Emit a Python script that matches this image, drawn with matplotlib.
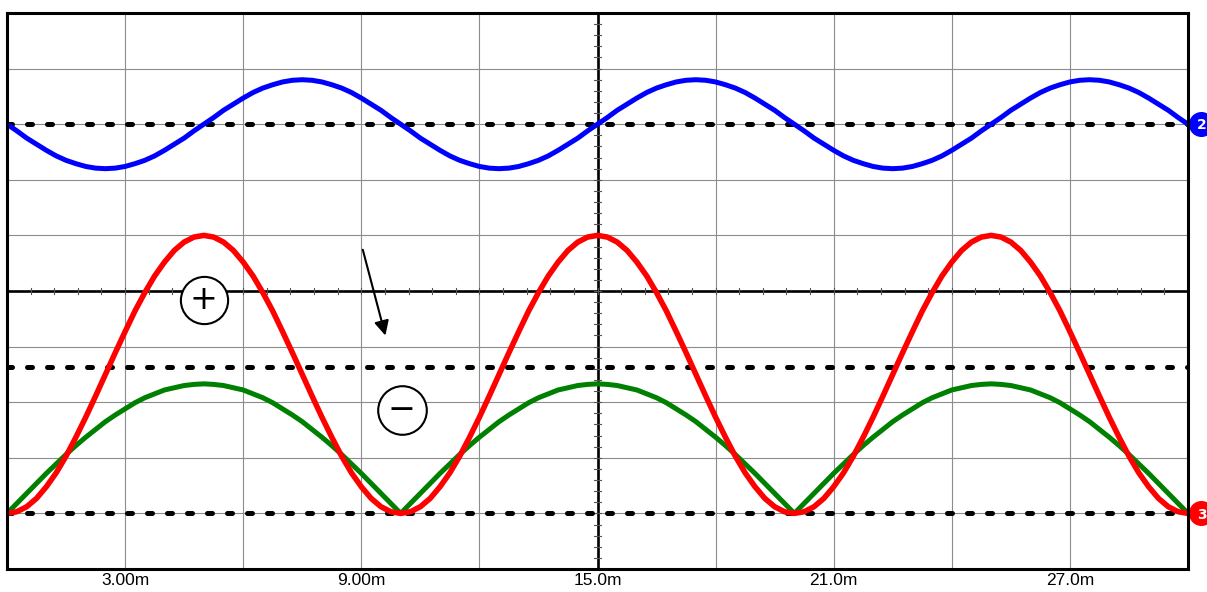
import numpy as np
import matplotlib.pyplot as plt

# tijd in ms, stapgrootte 0.25 ms (0 .. 30 ms)
t = np.arange(0, 30.001, 0.25)

# kanaal 2 (blauw), in schaaldelen
blauw = [3.00, 2.88, 2.75, 2.64, 2.53, 2.43, 2.35, 2.29, 2.24, 2.21,
         2.20, 2.21, 2.24, 2.29, 2.35, 2.43, 2.53, 2.64, 2.75, 2.88,
         3.00, 3.12, 3.25, 3.36, 3.47, 3.57, 3.65, 3.71, 3.76, 3.79,
         3.80, 3.79, 3.76, 3.71, 3.65, 3.57, 3.47, 3.36, 3.25, 3.12,
         3.00, 2.88, 2.75, 2.64, 2.53, 2.43, 2.35, 2.29, 2.24, 2.21,
         2.20, 2.21, 2.24, 2.29, 2.35, 2.43, 2.53, 2.64, 2.75, 2.88,
         3.00, 3.12, 3.25, 3.36, 3.47, 3.57, 3.65, 3.71, 3.76, 3.79,
         3.80, 3.79, 3.76, 3.71, 3.65, 3.57, 3.47, 3.36, 3.25, 3.12,
         3.00, 2.88, 2.75, 2.64, 2.53, 2.43, 2.35, 2.29, 2.24, 2.21,
         2.20, 2.21, 2.24, 2.29, 2.35, 2.43, 2.53, 2.64, 2.75, 2.88,
         3.00, 3.12, 3.25, 3.36, 3.47, 3.57, 3.65, 3.71, 3.76, 3.79,
         3.80, 3.79, 3.76, 3.71, 3.65, 3.57, 3.47, 3.36, 3.25, 3.12,
         3.00]

# kanaal 3 (rood)
rood = [-4.00, -3.97, -3.88, -3.73, -3.52, -3.27, -2.97, -2.63, -2.27, -1.89,
        -1.50, -1.11, -0.73, -0.36, -0.03, 0.27, 0.52, 0.73, 0.88, 0.97,
        1.00, 0.97, 0.88, 0.73, 0.52, 0.27, -0.03, -0.36, -0.73, -1.11,
        -1.50, -1.89, -2.27, -2.63, -2.97, -3.27, -3.52, -3.73, -3.88, -3.97,
        -4.00, -3.97, -3.88, -3.73, -3.52, -3.27, -2.97, -2.63, -2.27, -1.89,
        -1.50, -1.11, -0.73, -0.36, -0.03, 0.27, 0.52, 0.73, 0.88, 0.97,
        1.00, 0.97, 0.88, 0.73, 0.52, 0.27, -0.03, -0.36, -0.73, -1.11,
        -1.50, -1.89, -2.27, -2.63, -2.97, -3.27, -3.52, -3.73, -3.88, -3.97,
        -4.00, -3.97, -3.88, -3.73, -3.52, -3.27, -2.97, -2.63, -2.27, -1.89,
        -1.50, -1.11, -0.73, -0.36, -0.03, 0.27, 0.52, 0.73, 0.88, 0.97,
        1.00, 0.97, 0.88, 0.73, 0.52, 0.27, -0.03, -0.36, -0.73, -1.11,
        -1.50, -1.89, -2.27, -2.63, -2.97, -3.27, -3.52, -3.73, -3.88, -3.97,
        -4.00]

# groen
groen = [-4.00, -3.82, -3.64, -3.46, -3.28, -3.11, -2.94, -2.78, -2.63, -2.49,
         -2.35, -2.23, -2.12, -2.01, -1.92, -1.85, -1.78, -1.74, -1.70, -1.68,
         -1.67, -1.68, -1.70, -1.74, -1.78, -1.85, -1.92, -2.01, -2.12, -2.23,
         -2.35, -2.49, -2.63, -2.78, -2.94, -3.11, -3.28, -3.46, -3.64, -3.82,
         -4.00, -3.82, -3.64, -3.46, -3.28, -3.11, -2.94, -2.78, -2.63, -2.49,
         -2.35, -2.23, -2.12, -2.01, -1.92, -1.85, -1.78, -1.74, -1.70, -1.68,
         -1.67, -1.68, -1.70, -1.74, -1.78, -1.85, -1.92, -2.01, -2.12, -2.23,
         -2.35, -2.49, -2.63, -2.78, -2.94, -3.11, -3.28, -3.46, -3.64, -3.82,
         -4.00, -3.82, -3.64, -3.46, -3.28, -3.11, -2.94, -2.78, -2.63, -2.49,
         -2.35, -2.23, -2.12, -2.01, -1.92, -1.85, -1.78, -1.74, -1.70, -1.68,
         -1.67, -1.68, -1.70, -1.74, -1.78, -1.85, -1.92, -2.01, -2.12, -2.23,
         -2.35, -2.49, -2.63, -2.78, -2.94, -3.11, -3.28, -3.46, -3.64, -3.82,
         -4.00]

# referentieniveaus (stippellijnen)
ref_niveaus = [3.0, -1.37, -4.0]

tick_pos = [3, 9, 15, 21, 27]
tick_labels = ['3.00m', '9.00m', '15.0m', '21.0m', '27.0m']

fig = plt.figure(figsize=(12.07, 5.92), dpi=100)
ax = fig.add_axes([7/1207, 23/592, 1181/1207, 556/592])
ax.set_xlim(0, 30)
ax.set_ylim(-5, 5)

# raster
for gx in range(0, 31, 3):
    ax.axvline(gx, color='#8c8c8c', lw=0.8, zorder=1)
for gy in range(-5, 6):
    ax.axhline(gy, color='#8c8c8c', lw=0.8, zorder=1)

# middenassen met kleine streepjes
ax.axhline(0, color='black', lw=1.9, zorder=2)
ax.axvline(15, color='black', lw=1.9, zorder=2)
for mx in np.arange(0, 30.01, 0.6):
    ax.plot([mx, mx], [-0.055, 0.055], color='#555555', lw=0.8, zorder=2)
for my in np.arange(-5, 5.01, 0.2):
    ax.plot([14.92, 15.08], [my, my], color='#555555', lw=0.8, zorder=2)

for niveau in ref_niveaus:
    ax.plot([0, 30], [niveau, niveau], color='black', lw=3.6,
            linestyle=(0, (1, 3)), dash_capstyle='round', zorder=3)

ax.plot(t, blauw, color='#0000ff', lw=3.6, zorder=4, solid_joinstyle='round')
ax.plot(t, groen, color='#008000', lw=3.6, zorder=4, solid_joinstyle='round')
ax.plot(t, rood, color='#ff0000', lw=4.0, zorder=5, solid_joinstyle='round')

# plus- en mintekens
ax.plot(5.0, -0.16, 'o', ms=34, mfc='white', mec='black', mew=1.5, zorder=6)
ax.text(5.0, -0.16, '+', ha='center', va='center', fontsize=24, zorder=7,
        fontfamily='DejaVu Sans')
ax.plot(10.03, -2.14, 'o', ms=35, mfc='white', mec='black', mew=1.5, zorder=6)
ax.text(10.03, -2.14, '\u2212', ha='center', va='center', fontsize=24, zorder=7,
        fontfamily='DejaVu Sans')

ax.annotate('', xy=(9.63, -0.85), xytext=(9.02, 0.79),
            arrowprops=dict(arrowstyle='-|>', color='black', lw=1.5,
                            mutation_scale=22), zorder=6)

# kanaalmarkeringen rechts
ax.plot(30.33, 3.0, 'o', ms=17, color='#0000ff', clip_on=False, zorder=8)
ax.text(30.36, 2.98, '2', color='white', fontsize=10, fontweight='bold',
        ha='center', va='center', clip_on=False, zorder=9)
ax.plot(30.33, -4.0, 'o', ms=17, color='#ff0000', clip_on=False, zorder=8)
ax.text(30.36, -4.02, '3', color='white', fontsize=10, fontweight='bold',
        ha='center', va='center', clip_on=False, zorder=9)

ax.set_xticks(tick_pos)
ax.set_xticklabels(tick_labels, fontfamily='Liberation Sans', fontsize=12.5)
ax.set_yticks([])
ax.tick_params(axis='x', length=0, pad=3)
for s in ax.spines.values():
    s.set_linewidth(2.2)
    s.set_color('black')
    s.set_zorder(10)

fig.savefig('out.png', dpi=100)
